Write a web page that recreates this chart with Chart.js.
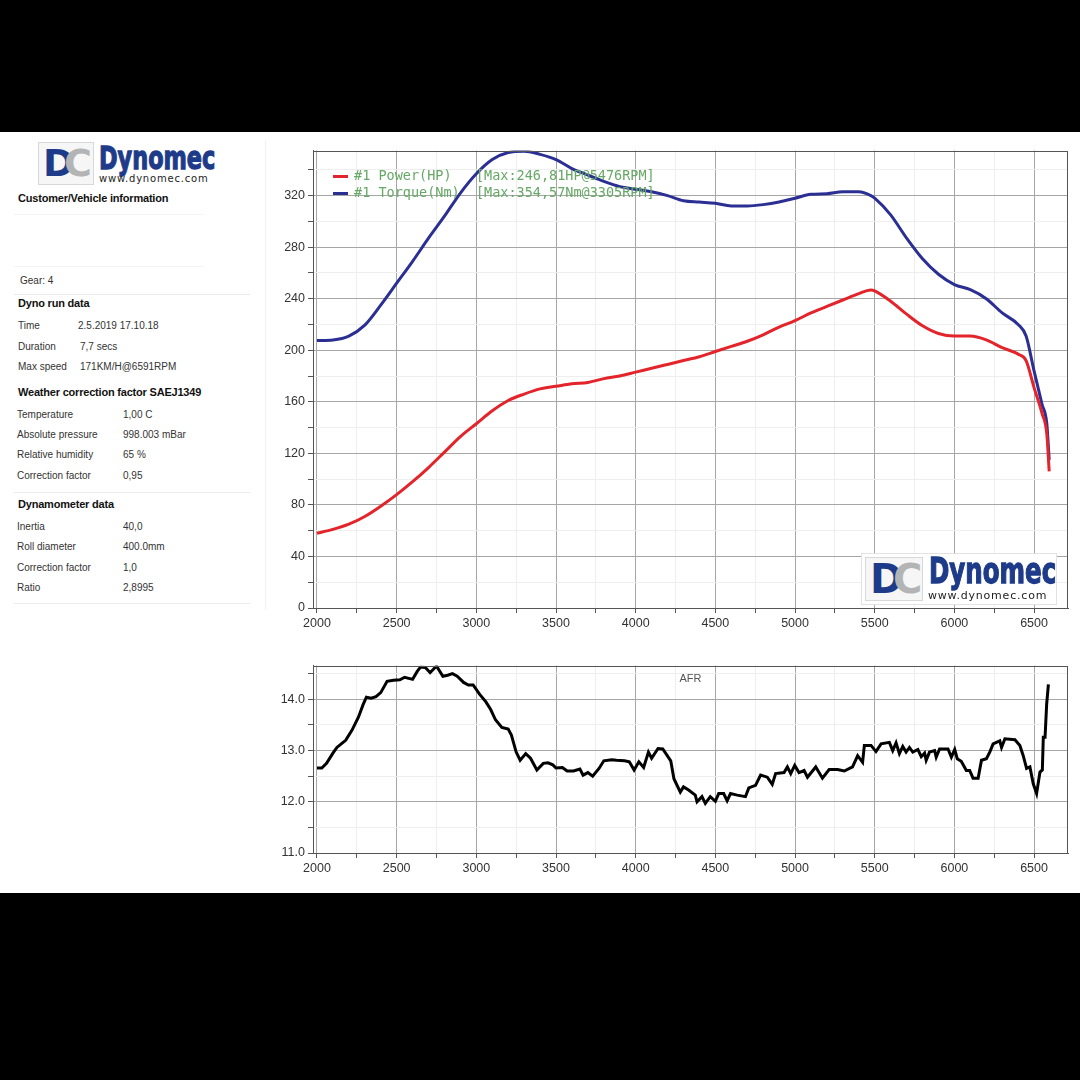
<!DOCTYPE html>
<html>
<head>
<meta charset="utf-8">
<script src="https://cdn.jsdelivr.net/npm/chart.js@4.4.1/dist/chart.umd.min.js"></script>
<style>
html, body { margin: 0; padding: 0; background: #000; }
#page { position: relative; width: 1080px; height: 1080px; background: #000; overflow: hidden;
        font-family: "Liberation Sans", Arial, sans-serif; color: #222; }
#sheet { position: absolute; left: 0; top: 132px; width: 1080px; height: 761px; background: #fff; }
.t { position: absolute; white-space: nowrap; font-size: 10px; color: #333; line-height: 12px; }
.h { position: absolute; white-space: nowrap; font-size: 11px; font-weight: bold; color: #111; line-height: 13px; letter-spacing: -0.2px; }
.sep { position: absolute; height: 1px; background: #ececec; }
.dcbox { position: absolute; border: 1px solid #d8d8d8; background: #f6f6f6; overflow: hidden; }
.dcbox span { position: absolute; font-family: "DejaVu Sans", sans-serif; font-weight: bold; }
.name { position: absolute; white-space: nowrap; font-family: "DejaVu Sans", sans-serif; font-weight: bold;
        color: #1e3b8a; transform-origin: left top; -webkit-text-stroke: 1.3px #1e3b8a; }
.url { position: absolute; white-space: nowrap; font-family: "DejaVu Sans", sans-serif; color: #222; letter-spacing: 0.8px; }
canvas { position: absolute; }
</style>
</head>
<body>
<div id="page">
  <div id="sheet"></div>

  <!-- logo, left panel -->
  <div class="dcbox" style="left:38px;top:142px;width:54px;height:41px;">
    <span style="left:4px;top:-2px;font-size:38px;color:#1e3b8a;">D</span>
    <span style="left:25px;top:-2px;font-size:38px;color:#b4b4b4;">C</span>
  </div>
  <div class="name" style="left:99px;top:139px;font-size:32px;transform:scaleX(0.70);">Dynomec</div>
  <div class="url" style="left:99px;top:173px;font-size:10px;">www.dynomec.com</div>

  <div class="h" style="left:18px;top:192px;">Customer/Vehicle information</div>
  <div class="sep" style="left:14px;top:214px;width:190px;background:#f4f4f4;"></div>
  <div class="sep" style="left:14px;top:266px;width:190px;background:#f4f4f4;"></div>
  <div class="t" style="left:20px;top:275px;">Gear: 4</div>
  <div class="sep" style="left:14px;top:294px;width:236px;"></div>

  <div class="h" style="left:18px;top:297px;">Dyno run data</div>
  <div class="t" style="left:18px;top:320px;">Time</div>
  <div class="t" style="left:78px;top:320px;">2.5.2019 17.10.18</div>
  <div class="t" style="left:18px;top:341px;">Duration</div>
  <div class="t" style="left:80px;top:341px;">7,7 secs</div>
  <div class="t" style="left:18px;top:361px;">Max speed</div>
  <div class="t" style="left:80px;top:361px;">171KM/H@6591RPM</div>

  <div class="h" style="left:18px;top:386px;">Weather correction factor SAEJ1349</div>
  <div class="t" style="left:17px;top:409px;">Temperature</div>
  <div class="t" style="left:123px;top:409px;">1,00 C</div>
  <div class="t" style="left:17px;top:429px;">Absolute pressure</div>
  <div class="t" style="left:123px;top:429px;">998.003 mBar</div>
  <div class="t" style="left:17px;top:449px;">Relative humidity</div>
  <div class="t" style="left:123px;top:449px;">65 %</div>
  <div class="t" style="left:17px;top:470px;">Correction factor</div>
  <div class="t" style="left:123px;top:470px;">0,95</div>
  <div class="sep" style="left:14px;top:492px;width:236px;"></div>

  <div class="h" style="left:18px;top:498px;">Dynamometer data</div>
  <div class="t" style="left:17px;top:521px;">Inertia</div>
  <div class="t" style="left:123px;top:521px;">40,0</div>
  <div class="t" style="left:17px;top:541px;">Roll diameter</div>
  <div class="t" style="left:123px;top:541px;">400.0mm</div>
  <div class="t" style="left:17px;top:562px;">Correction factor</div>
  <div class="t" style="left:123px;top:562px;">1,0</div>
  <div class="t" style="left:17px;top:582px;">Ratio</div>
  <div class="t" style="left:123px;top:582px;">2,8995</div>
  <div class="sep" style="left:14px;top:603px;width:236px;"></div>
  <div class="sep" style="left:265px;top:140px;width:1px;height:470px;background:#f0f0f0;"></div>

  <canvas id="dynoChart" style="left:270px;top:140px;width:810px;height:500px;"></canvas>
  <canvas id="afrChart" style="left:270px;top:655px;width:810px;height:230px;"></canvas>

  <!-- logo inside the plot -->
  <div style="position:absolute;left:861px;top:553px;width:194px;height:50px;background:#fff;border:1px solid #e2e2e2;"></div>
  <div class="dcbox" style="left:865px;top:557px;width:56px;height:42px;">
    <span style="left:4px;top:-2px;font-size:40px;color:#1e3b8a;">D</span>
    <span style="left:27px;top:-2px;font-size:40px;color:#b4b4b4;">C</span>
  </div>
  <div class="name" style="left:929px;top:551px;font-size:35px;transform:scaleX(0.70);">Dynomec</div>
  <div class="url" style="left:928px;top:589px;font-size:11px;">www.dynomec.com</div>
</div>

<script>
// power / torque run
const rpm = [2000, 2100, 2200, 2300, 2400, 2500, 2600, 2700, 2800, 2900, 3000, 3100, 3200, 3300, 3400,
             3500, 3600, 3700, 3800, 3900, 4000, 4100, 4200, 4300, 4400, 4500, 4600, 4700, 4800, 4900,
             5000, 5100, 5200, 5300, 5400, 5476, 5500, 5600, 5700, 5800, 5900, 6000, 6100, 6200, 6300,
             6400, 6450, 6500, 6550, 6580, 6595];
const powerHp = [58, 61, 65, 71, 79, 88, 98, 109, 121, 133, 143, 153, 161, 166, 170,
                 172, 174, 175, 178, 180, 183, 186, 189, 192, 195, 199, 203, 207, 212, 218,
                 223, 229, 234, 239, 244, 246.8, 246, 238, 228, 219, 213, 211, 211, 208, 202,
                 197, 192, 171, 151, 135, 106];
const torqueNm = [207.5, 208, 211, 219.5, 235, 252, 269, 287, 304, 322, 337, 348, 353.5, 354.5, 352,
                  348, 341, 336, 331, 327, 325, 323, 320, 316, 315, 314, 312, 312, 313, 315,
                  318, 321, 321.5, 323, 323, 320, 318, 305, 287, 271, 259, 251, 247, 240, 229,
                  220, 211, 184, 158, 143, 115];

// air/fuel ratio trace
const afrRpm = [2000, 2030, 2060, 2100, 2125, 2160, 2180, 2220, 2260, 2290, 2310, 2340, 2370, 2400, 2440,
                2480, 2520, 2550, 2600, 2630, 2650, 2680, 2710, 2750, 2790, 2820, 2850, 2880, 2920, 2950,
                2980, 3020, 3060, 3090, 3120, 3160, 3200, 3220, 3250, 3275, 3310, 3340, 3380, 3420, 3450,
                3480, 3500, 3540, 3570, 3610, 3650, 3670, 3700, 3730, 3770, 3800, 3850, 3880, 3930, 3960,
                3990, 4020, 4050, 4080, 4100, 4140, 4170, 4220, 4240, 4280, 4300, 4332, 4374, 4385, 4416,
                4437, 4468, 4500, 4521, 4552, 4574, 4595, 4637, 4689, 4710, 4752, 4784, 4826, 4857, 4878,
                4931, 4952, 4973, 4998, 5025, 5057, 5078, 5130, 5172, 5214, 5267, 5309, 5361, 5393, 5424,
                5435, 5477, 5508, 5540, 5592, 5613, 5634, 5655, 5676, 5697, 5718, 5739, 5771, 5792, 5813,
                5823, 5844, 5876, 5886, 5907, 5960, 5981, 6002, 6018, 6043, 6075, 6096, 6117, 6149, 6170,
                6201, 6222, 6243, 6285, 6296, 6317, 6380, 6411, 6432, 6453, 6474, 6495, 6516, 6537, 6552,
                6558, 6569, 6579, 6590];
const afrValue = [12.66, 12.66, 12.75, 12.95, 13.06, 13.15, 13.2, 13.4, 13.65, 13.9, 14.04, 14.02, 14.05, 14.13, 14.35,
                  14.37, 14.38, 14.43, 14.39, 14.55, 14.63, 14.62, 14.52, 14.65, 14.45, 14.47, 14.5, 14.45, 14.33, 14.28,
                  14.28, 14.1, 13.95, 13.8, 13.6, 13.45, 13.42, 13.3, 12.97, 12.81, 12.94, 12.85, 12.62, 12.75, 12.76,
                  12.72, 12.66, 12.67, 12.6, 12.6, 12.64, 12.52, 12.57, 12.5, 12.65, 12.8, 12.82, 12.81, 12.8, 12.78,
                  12.62, 12.78, 12.67, 12.97, 12.85, 13.04, 13.03, 12.8, 12.45, 12.19, 12.29, 12.23, 12.13, 12.0, 12.1,
                  11.97, 12.1, 12.01, 12.16, 12.16, 12.02, 12.16, 12.13, 12.1, 12.27, 12.32, 12.52, 12.48, 12.34, 12.55,
                  12.57, 12.68, 12.55, 12.71, 12.57, 12.61, 12.48, 12.68, 12.46, 12.63, 12.63, 12.6, 12.68, 12.9, 12.77,
                  13.1, 13.1, 12.98, 13.13, 13.16, 13.0, 13.15, 12.94, 13.08, 12.97, 13.06, 12.97, 13.02, 12.88, 12.95,
                  12.81, 12.97, 13.0, 12.87, 13.03, 13.03, 12.87, 13.02, 12.84, 12.79, 12.61, 12.61, 12.46, 12.46, 12.81,
                  12.84, 12.97, 13.13, 13.19, 13.06, 13.23, 13.21, 13.1, 12.9, 12.65, 12.68, 12.35, 12.16, 12.58, 12.62,
                  13.26, 13.26, 13.9, 14.29];

const legendNotes = ['[Max:246,81HP@5476RPM]', '[Max:354,57Nm@3305RPM]'];
const rpmTicks = [2000, 2250, 2500, 2750, 3000, 3250, 3500, 3750, 4000, 4250, 4500, 4750,
                  5000, 5250, 5500, 5750, 6000, 6250, 6500];
const dynoTicks = [0, 20, 40, 60, 80, 100, 120, 140, 160, 180, 200, 220, 240, 260, 280, 300, 320, 340];
const afrTicks = [11, 11.5, 12, 12.5, 13, 13.5, 14, 14.5];

Chart.defaults.font.family = '"Liberation Sans", Arial, sans-serif';
Chart.defaults.font.size = 12.5;
Chart.defaults.color = '#333';
Chart.defaults.animation = false;

function toPoints(xs, ys) {
    return xs.map(function(x, i) { return { x: x, y: ys[i] }; });
}

// 外框
const framePlugin = {
    id: 'frame',
    afterDraw(chart) {
        const a = chart.chartArea;
        const ctx = chart.ctx;
        ctx.save();
        ctx.strokeStyle = '#555';
        ctx.lineWidth = 1;
        ctx.strokeRect(Math.round(a.left) + 0.5, Math.round(a.top) + 0.5,
                       Math.round(a.right - a.left) - 1, Math.round(a.bottom - a.top) - 1);
        ctx.restore();
    }
};

// legend drawn inside the plot, like the dyno software does
const dynoLegend = {
    id: 'dynoLegend',
    afterDatasetsDraw(chart) {
        const a = chart.chartArea;
        const ctx = chart.ctx;
        ctx.save();
        ctx.font = '13.5px "DejaVu Sans Mono", "Liberation Mono", monospace';
        ctx.textBaseline = 'middle';
        chart.data.datasets.forEach(function(ds, i) {
            const y = a.top + 26 + i * 17;
            ctx.strokeStyle = ds.borderColor;
            ctx.lineWidth = 3;
            ctx.beginPath();
            ctx.moveTo(a.left + 20, y);
            ctx.lineTo(a.left + 35, y);
            ctx.stroke();
            ctx.fillStyle = '#66a866';
            const pad = i === 0 ? '   ' : '  ';
            ctx.fillText(ds.label + pad + legendNotes[i], a.left + 41, y);
        });
        ctx.restore();
    }
};

const afrTitle = {
    id: 'afrTitle',
    afterDraw(chart) {
        const a = chart.chartArea;
        const ctx = chart.ctx;
        ctx.save();
        ctx.font = '11px "Liberation Sans", Arial, sans-serif';
        ctx.fillStyle = '#555';
        ctx.textAlign = 'center';
        ctx.textBaseline = 'middle';
        ctx.fillText('AFR', (a.left + a.right) / 2, a.top + 13);
        ctx.restore();
    }
};

function rpmAxis(height) {
    return {
        type: 'linear',
        min: 1975,
        max: 6713,
        afterBuildTicks: function(axis) {
            axis.ticks = rpmTicks.map(function(v) { return { value: v }; });
        },
        afterFit: function(axis) { axis.height = height; },
        ticks: {
            padding: 3,
            autoSkip: false,
            maxRotation: 0,
            callback: function(v) { return v % 500 === 0 ? String(v) : ''; }
        },
        grid: {
            tickLength: 5,
            color: function(c) { return c.tick && c.tick.value % 500 === 0 ? '#a6a6a6' : '#eeeeee'; },
            tickColor: '#555'
        },
        border: { color: '#555' }
    };
}

new Chart(document.getElementById('dynoChart'), {
    type: 'line',
    data: {
        datasets: [
            {
                label: '#1 Power(HP)',
                data: toPoints(rpm, powerHp),
                borderColor: '#e3242b',
                borderWidth: 3,
                pointRadius: 0,
                cubicInterpolationMode: 'monotone',
                fill: false,
                order: 1
            },
            {
                label: '#1 Torque(Nm)',
                data: toPoints(rpm, torqueNm),
                borderColor: '#2b2f93',
                borderWidth: 3,
                pointRadius: 0,
                cubicInterpolationMode: 'monotone',
                fill: false,
                order: 2
            }
        ]
    },
    options: {
        responsive: false,
        layout: { padding: { top: 10, right: 12, left: 0, bottom: 0 } },
        plugins: { legend: { display: false }, tooltip: { enabled: false } },
        scales: {
            x: rpmAxis(32),
            y: {
                type: 'linear',
                min: 0,
                max: 355,
                afterBuildTicks: function(axis) {
                    axis.ticks = dynoTicks.map(function(v) { return { value: v }; });
                },
                afterFit: function(axis) { axis.width = 43; },
                ticks: {
                    padding: 3,
                    autoSkip: false,
                    callback: function(v) { return v % 40 === 0 ? String(v) : ''; }
                },
                grid: {
                    tickLength: 5,
                    color: function(c) { return c.tick && c.tick.value % 40 === 0 ? '#a6a6a6' : '#eeeeee'; },
                    tickColor: '#555'
                },
                border: { color: '#555' }
            }
        }
    },
    plugins: [framePlugin, dynoLegend]
});

new Chart(document.getElementById('afrChart'), {
    type: 'line',
    data: {
        datasets: [{
            label: 'AFR',
            data: toPoints(afrRpm, afrValue),
            borderColor: '#000',
            borderWidth: 3,
            pointRadius: 0,
            tension: 0,
            fill: false
        }]
    },
    options: {
        responsive: false,
        layout: { padding: { top: 9, right: 12, left: 0, bottom: 0 } },
        plugins: { legend: { display: false }, tooltip: { enabled: false } },
        scales: {
            x: rpmAxis(32),
            y: {
                type: 'linear',
                min: 11,
                max: 14.66,
                afterBuildTicks: function(axis) {
                    axis.ticks = afrTicks.map(function(v) { return { value: v }; });
                },
                afterFit: function(axis) { axis.width = 43; },
                ticks: {
                    padding: 3,
                    autoSkip: false,
                    callback: function(v) { return Number.isInteger(v) ? v.toFixed(1) : ''; }
                },
                grid: {
                    tickLength: 5,
                    color: function(c) { return c.tick && Number.isInteger(c.tick.value) ? '#a6a6a6' : '#eeeeee'; },
                    tickColor: '#555'
                },
                border: { color: '#555' }
            }
        }
    },
    plugins: [framePlugin, afrTitle]
});
</script>
</body>
</html>
